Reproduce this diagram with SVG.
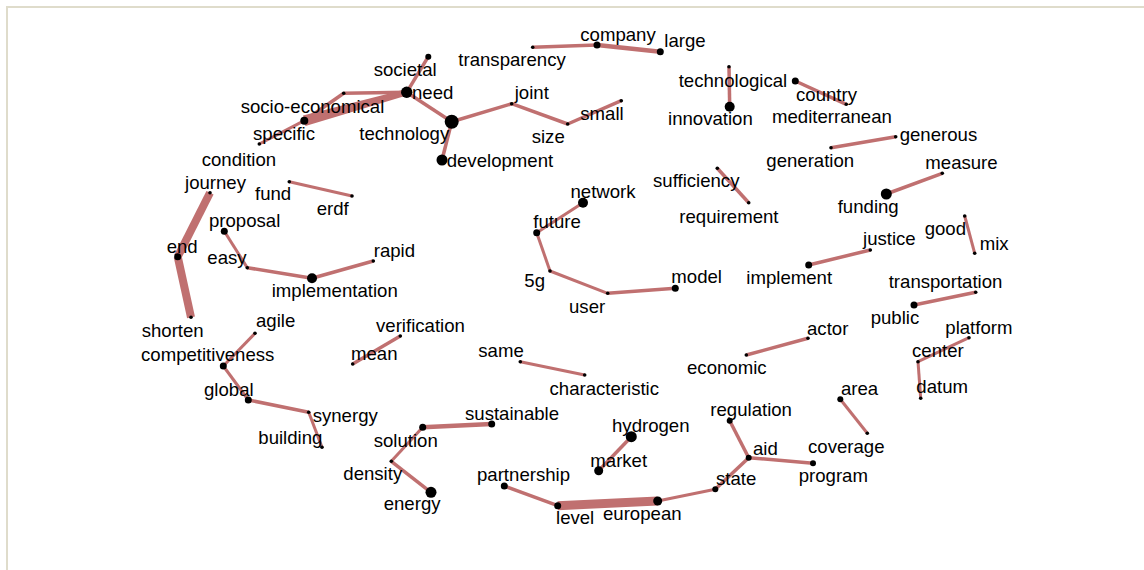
<svg xmlns="http://www.w3.org/2000/svg" width="1144" height="570" viewBox="0 0 1144 570">
  <style>
    .frame { stroke: #dfdccb; stroke-width: 2; fill: none; }
    .e { stroke: #c07070; stroke-width: 3.5; stroke-linecap: butt; fill: none; }
    .e3 { stroke-width: 3; }
    .e4 { stroke-width: 4.5; }
    .ew { stroke-width: 8; }
    .node circle { fill: #000; }
    .node text { font-family: "Liberation Sans", Arial, sans-serif; font-size: 18.6px; fill: #000; }
  </style>
  <rect width="1144" height="570" fill="#fff"/>
  <path class="frame" d="M7 570 V7 H1144"/>

  <!-- word pairs -->
  <g id="connectors">
    <line class="e" x1="428.3" y1="56.7" x2="406.7" y2="92.3"/>
    <line class="e" x1="406.7" y1="92.3" x2="451.7" y2="121.7"/>
    <line class="e" x1="406.7" y1="92.3" x2="343.7" y2="93.3"/>
    <line class="e" x1="343.7" y1="93.3" x2="304.3" y2="120.7"/>
    <polygon fill="#c07070" points="406.7,89 406.7,95.5 305.5,126 303,115.5"/>
    <line class="e e3" x1="304.3" y1="120.7" x2="259.3" y2="144"/>
    <line class="e" x1="451.7" y1="121.7" x2="442" y2="160"/>
    <line class="e" x1="451.7" y1="121.7" x2="511.7" y2="103.7"/>
    <line class="e" x1="511.7" y1="103.7" x2="567.7" y2="124"/>
    <line class="e" x1="567.7" y1="124" x2="621.3" y2="100.7"/>
    <line class="e" x1="532.7" y1="47.3" x2="597" y2="45"/>
    <line class="e e4" x1="597" y1="45" x2="660.3" y2="51.7"/>
    <line class="e" x1="729" y1="66.7" x2="729.7" y2="106.7"/>
    <line class="e" x1="795.3" y1="81" x2="846.3" y2="104.3"/>
    <line class="e" x1="831" y1="147.7" x2="895.7" y2="136.7"/>
    <line class="e" x1="886.3" y1="194" x2="942.3" y2="173.3"/>
    <line class="e" x1="717.3" y1="168.3" x2="748.7" y2="202.7"/>
    <line class="e e3" x1="583" y1="202.7" x2="536.7" y2="232.7"/>
    <line class="e e3" x1="536.7" y1="232.7" x2="550" y2="271"/>
    <line class="e e3" x1="550" y1="271" x2="607.7" y2="293.3"/>
    <line class="e" x1="607.7" y1="293.3" x2="675.3" y2="288.3"/>
    <line class="e" x1="808.7" y1="265" x2="870.3" y2="250"/>
    <line class="e e3" x1="964.7" y1="216" x2="974.7" y2="253.3"/>
    <line class="e" x1="914" y1="305" x2="975.7" y2="292.3"/>
    <line class="e e3" x1="969" y1="337.7" x2="918" y2="361.7"/>
    <line class="e e3" x1="918" y1="361.7" x2="920.7" y2="398.3"/>
    <line class="e" x1="746.3" y1="355" x2="808" y2="338.3"/>
    <line class="e e3" x1="520.3" y1="361.7" x2="584.7" y2="375"/>
    <line class="e" x1="400.3" y1="336" x2="352.7" y2="364"/>
    <line class="e e3" x1="289.3" y1="181.7" x2="352" y2="196"/>
    <line class="e ew" x1="210" y1="192.7" x2="177.7" y2="256.7"/>
    <line class="e ew" x1="177.7" y1="256.7" x2="191" y2="317.3"/>
    <line class="e e3" x1="224.3" y1="231.3" x2="247.3" y2="267.7"/>
    <line class="e" x1="247.3" y1="267.7" x2="312" y2="278.3"/>
    <line class="e" x1="312" y1="278.3" x2="373.3" y2="261"/>
    <line class="e e3" x1="255" y1="333.3" x2="223.3" y2="366"/>
    <line class="e e3" x1="223.3" y1="366" x2="248.3" y2="400"/>
    <line class="e" x1="248.3" y1="400" x2="308.7" y2="412.3"/>
    <line class="e e3" x1="308.7" y1="412.3" x2="322" y2="447.3"/>
    <line class="e e4" x1="491.7" y1="424" x2="422.7" y2="427.3"/>
    <line class="e e3" x1="422.7" y1="427.3" x2="391.3" y2="461.3"/>
    <line class="e" x1="391.3" y1="461.3" x2="431" y2="492.3"/>
    <line class="e" x1="504.3" y1="486" x2="557.7" y2="505.7"/>
    <line class="e" style="stroke-width:9" x1="557.7" y1="505.7" x2="657.7" y2="501"/>
    <line class="e e3" x1="657.7" y1="501" x2="715.3" y2="489.3"/>
    <line class="e" x1="715.3" y1="489.3" x2="748.7" y2="457.7"/>
    <line class="e" x1="748.7" y1="457.7" x2="729.7" y2="420.7"/>
    <line class="e" x1="748.7" y1="457.7" x2="813" y2="463.3"/>
    <line class="e e3" x1="840.3" y1="399.3" x2="867.3" y2="433.3"/>
    <line class="e" x1="631.3" y1="436.7" x2="598.7" y2="470.7"/>
  </g>

  <g id="n-societal" class="node"><circle cx="428.3" cy="56.7" r="3"/><text x="373.7" y="76">societal</text></g>
  <g id="n-need" class="node"><circle cx="406.7" cy="92.3" r="5.7"/><text x="412" y="99">need</text></g>
  <g id="n-socio-economical" class="node"><circle cx="343.7" cy="93.3" r="1.8"/><text x="240.7" y="113">socio-economical</text></g>
  <g id="n-specific" class="node"><circle cx="304.3" cy="120.7" r="4"/><text x="253" y="140">specific</text></g>
  <g id="n-condition" class="node"><circle cx="259.3" cy="144" r="1.8"/><text x="201.7" y="166">condition</text></g>
  <g id="n-technology" class="node"><circle cx="451.7" cy="121.7" r="7"/><text x="359.3" y="140">technology</text></g>
  <g id="n-development" class="node"><circle cx="442" cy="160" r="5.5"/><text x="446.7" y="166.5">development</text></g>
  <g id="n-joint" class="node"><circle cx="511.7" cy="103.7" r="1.8"/><text x="514.7" y="99">joint</text></g>
  <g id="n-size" class="node"><circle cx="567.7" cy="124" r="1.8"/><text x="531.7" y="142.5">size</text></g>
  <g id="n-small" class="node"><circle cx="621.3" cy="100.7" r="1.8"/><text x="580.3" y="120">small</text></g>
  <g id="n-transparency" class="node"><circle cx="532.7" cy="47.3" r="1.8"/><text x="458.3" y="66">transparency</text></g>
  <g id="n-company" class="node"><circle cx="597" cy="45" r="3.5"/><text x="580.3" y="41">company</text></g>
  <g id="n-large" class="node"><circle cx="660.3" cy="51.7" r="3.5"/><text x="664.3" y="46.7">large</text></g>
  <g id="n-technological" class="node"><circle cx="729" cy="66.7" r="1.8"/><text x="678.7" y="87">technological</text></g>
  <g id="n-innovation" class="node"><circle cx="729.7" cy="106.7" r="5"/><text x="668" y="125">innovation</text></g>
  <g id="n-country" class="node"><circle cx="795.3" cy="81" r="3.5"/><text x="796" y="100.5">country</text></g>
  <g id="n-mediterranean" class="node"><circle cx="846.3" cy="104.3" r="1.8"/><text x="772" y="123">mediterranean</text></g>
  <g id="n-generation" class="node"><circle cx="831" cy="147.7" r="1.8"/><text x="766.3" y="166.5">generation</text></g>
  <g id="n-generous" class="node"><circle cx="895.7" cy="136.7" r="1.8"/><text x="899.7" y="141">generous</text></g>
  <g id="n-measure" class="node"><circle cx="942.3" cy="173.3" r="1.8"/><text x="925.3" y="169">measure</text></g>
  <g id="n-funding" class="node"><circle cx="886.3" cy="194" r="5.5"/><text x="837.7" y="213">funding</text></g>
  <g id="n-sufficiency" class="node"><circle cx="717.3" cy="168.3" r="1.8"/><text x="653" y="187">sufficiency</text></g>
  <g id="n-requirement" class="node"><circle cx="748.7" cy="202.7" r="1.8"/><text x="679.3" y="222.7">requirement</text></g>
  <g id="n-network" class="node"><circle cx="583" cy="202.7" r="5"/><text x="570.5" y="198">network</text></g>
  <g id="n-future" class="node"><circle cx="536.7" cy="232.7" r="3.5"/><text x="533.3" y="228.3">future</text></g>
  <g id="n-5g" class="node"><circle cx="550" cy="271" r="1.8"/><text x="524.3" y="286.7">5g</text></g>
  <g id="n-user" class="node"><circle cx="607.7" cy="293.3" r="1.8"/><text x="569" y="312.7">user</text></g>
  <g id="n-model" class="node"><circle cx="675.3" cy="288.3" r="3.5"/><text x="671.3" y="283.3">model</text></g>
  <g id="n-implement" class="node"><circle cx="808.7" cy="265" r="3.5"/><text x="746.3" y="284">implement</text></g>
  <g id="n-justice" class="node"><circle cx="870.3" cy="250" r="1.8"/><text x="863" y="245">justice</text></g>
  <g id="n-good" class="node"><circle cx="964.7" cy="216" r="1.8"/><text x="924.7" y="235">good</text></g>
  <g id="n-mix" class="node"><circle cx="974.7" cy="253.3" r="1.8"/><text x="979.7" y="250">mix</text></g>
  <g id="n-transportation" class="node"><circle cx="975.7" cy="292.3" r="1.8"/><text x="888.7" y="288.3">transportation</text></g>
  <g id="n-public" class="node"><circle cx="914" cy="305" r="3.5"/><text x="870.7" y="324">public</text></g>
  <g id="n-platform" class="node"><circle cx="969" cy="337.7" r="1.8"/><text x="945.3" y="334">platform</text></g>
  <g id="n-center" class="node"><circle cx="918" cy="361.7" r="1.8"/><text x="912" y="356.7">center</text></g>
  <g id="n-datum" class="node"><circle cx="920.7" cy="398.3" r="1.8"/><text x="916.3" y="393.3">datum</text></g>
  <g id="n-actor" class="node"><circle cx="808" cy="338.3" r="1.8"/><text x="807" y="335">actor</text></g>
  <g id="n-economic" class="node"><circle cx="746.3" cy="355" r="1.8"/><text x="687" y="374">economic</text></g>
  <g id="n-same" class="node"><circle cx="520.3" cy="361.7" r="1.8"/><text x="478.3" y="356.7">same</text></g>
  <g id="n-characteristic" class="node"><circle cx="584.7" cy="375" r="1.8"/><text x="549.5" y="395">characteristic</text></g>
  <g id="n-verification" class="node"><circle cx="400.3" cy="336" r="1.8"/><text x="376" y="331.7">verification</text></g>
  <g id="n-mean" class="node"><circle cx="352.7" cy="364" r="1.8"/><text x="351" y="360">mean</text></g>
  <g id="n-fund" class="node"><circle cx="289.3" cy="181.7" r="1.8"/><text x="255" y="200">fund</text></g>
  <g id="n-erdf" class="node"><circle cx="352" cy="196" r="1.8"/><text x="316.7" y="215">erdf</text></g>
  <g id="n-journey" class="node"><circle cx="210" cy="192.7" r="1.8"/><text x="185" y="189">journey</text></g>
  <g id="n-end" class="node"><circle cx="177.7" cy="256.7" r="3.5"/><text x="166.7" y="253.3">end</text></g>
  <g id="n-shorten" class="node"><circle cx="191" cy="317.3" r="1.8"/><text x="141.7" y="336.7">shorten</text></g>
  <g id="n-proposal" class="node"><circle cx="224.3" cy="231.3" r="3.5"/><text x="209" y="227.3">proposal</text></g>
  <g id="n-easy" class="node"><circle cx="247.3" cy="267.7" r="1.8"/><text x="207.3" y="264">easy</text></g>
  <g id="n-implementation" class="node"><circle cx="312" cy="278.3" r="5"/><text x="271.7" y="297.3">implementation</text></g>
  <g id="n-rapid" class="node"><circle cx="373.3" cy="261" r="1.8"/><text x="373.7" y="256.7">rapid</text></g>
  <g id="n-agile" class="node"><circle cx="255" cy="333.3" r="1.8"/><text x="256" y="327.3">agile</text></g>
  <g id="n-competitiveness" class="node"><circle cx="223.3" cy="366" r="3.5"/><text x="141" y="360.7">competitiveness</text></g>
  <g id="n-global" class="node"><circle cx="248.3" cy="400" r="3.5"/><text x="204" y="396">global</text></g>
  <g id="n-synergy" class="node"><circle cx="308.7" cy="412.3" r="1.8"/><text x="312.7" y="421.7">synergy</text></g>
  <g id="n-building" class="node"><circle cx="322" cy="447.3" r="1.8"/><text x="258.3" y="444">building</text></g>
  <g id="n-sustainable" class="node"><circle cx="491.7" cy="424" r="3.5"/><text x="465" y="420">sustainable</text></g>
  <g id="n-solution" class="node"><circle cx="422.7" cy="427.3" r="3.5"/><text x="373.7" y="446.7">solution</text></g>
  <g id="n-density" class="node"><circle cx="391.3" cy="461.3" r="1.8"/><text x="343.3" y="480">density</text></g>
  <g id="n-energy" class="node"><circle cx="431" cy="492.3" r="5.5"/><text x="383.7" y="510">energy</text></g>
  <g id="n-partnership" class="node"><circle cx="504.3" cy="486" r="3.5"/><text x="477" y="481">partnership</text></g>
  <g id="n-level" class="node"><circle cx="557.7" cy="505.7" r="3.5"/><text x="556" y="524">level</text></g>
  <g id="n-european" class="node"><circle cx="657.7" cy="501" r="4.5"/><text x="603" y="520">european</text></g>
  <g id="n-state" class="node"><circle cx="715.3" cy="489.3" r="3"/><text x="716" y="485">state</text></g>
  <g id="n-aid" class="node"><circle cx="748.7" cy="457.7" r="3"/><text x="753" y="455">aid</text></g>
  <g id="n-regulation" class="node"><circle cx="729.7" cy="420.7" r="3"/><text x="710.3" y="416">regulation</text></g>
  <g id="n-program" class="node"><circle cx="813" cy="463.3" r="3"/><text x="798.7" y="481.7">program</text></g>
  <g id="n-area" class="node"><circle cx="840.3" cy="399.3" r="3"/><text x="841" y="395">area</text></g>
  <g id="n-coverage" class="node"><circle cx="867.3" cy="433.3" r="1.8"/><text x="808" y="452.5">coverage</text></g>
  <g id="n-hydrogen" class="node"><circle cx="631.3" cy="436.7" r="5.5"/><text x="612" y="432.3">hydrogen</text></g>
  <g id="n-market" class="node"><circle cx="598.7" cy="470.7" r="4.5"/><text x="590.3" y="466.7">market</text></g>
</svg>
